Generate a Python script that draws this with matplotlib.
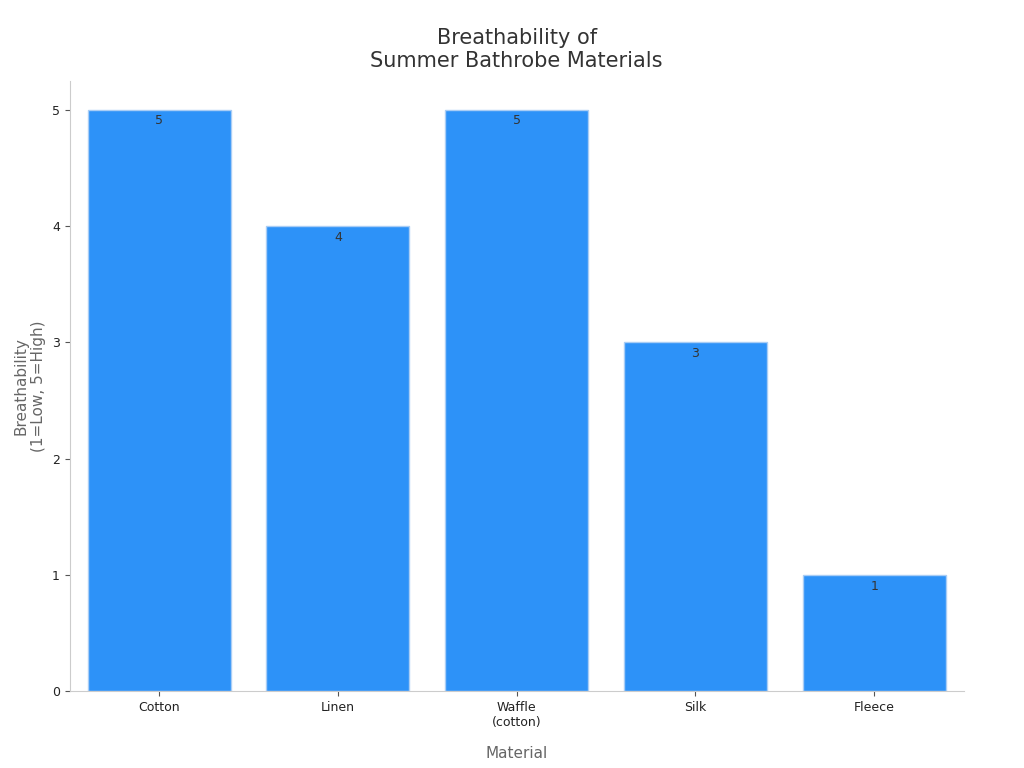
import matplotlib
matplotlib.use("Agg")
import matplotlib.pyplot as plt

materials = ["Cotton", "Linen", "Waffle\n(cotton)", "Silk", "Fleece"]
scores = [5, 4, 5, 3, 1]

fig = plt.figure(figsize=(10.24, 7.68), dpi=100)
ax = fig.add_axes([0.068, 0.1, 0.873, 0.795])
x = range(len(materials))
bars = ax.bar(x, scores, width=0.8, color="#2d92f8", edgecolor="#a9cdf5", linewidth=1)
for xi, v in zip(x, scores):
    ax.text(xi, v - 0.04, str(v), ha="center", va="top", fontsize=9, color="#333333")
ax.set_xticks(list(x))
ax.set_xticklabels(materials, fontsize=9, color="#222222")
ax.set_yticks([0, 1, 2, 3, 4, 5])
ax.tick_params(axis="y", labelsize=9, colors="#222222")
ax.tick_params(axis="both", color="#555555")
ax.set_xlim(-0.5, 4.5)
ax.set_ylim(0, 5.25)
for s in ["top", "right"]:
    ax.spines[s].set_visible(False)
for s in ["left", "bottom"]:
    ax.spines[s].set_color("#cccccc")
ax.set_xlabel("Material", fontsize=11, color="#666666", labelpad=12)
ax.set_ylabel("Breathability\n(1=Low, 5=High)", fontsize=11, color="#666666")
ax.set_title("Breathability of\nSummer Bathrobe Materials", fontsize=15, color="#333333", pad=10)
fig.savefig("out.png", dpi=100)
